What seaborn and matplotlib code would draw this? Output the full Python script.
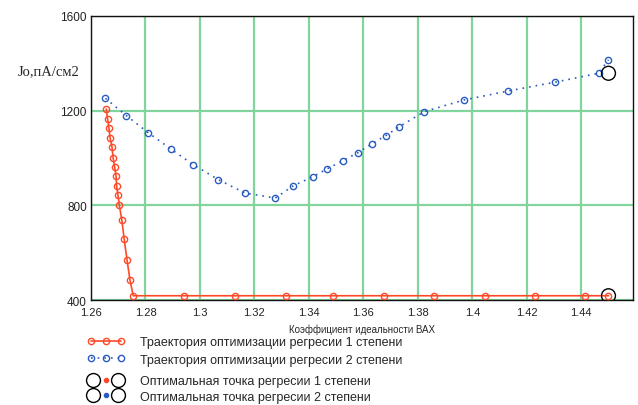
import matplotlib
matplotlib.use("Agg")
import matplotlib.pyplot as plt
import seaborn as sns
from matplotlib.lines import Line2D
from matplotlib.legend_handler import HandlerTuple

# trajectory of 1st-degree regression
red_x = [1.2656, 1.2661, 1.2666, 1.2670, 1.2677, 1.2681, 1.2687, 1.2692, 1.2694,
         1.2699, 1.2704, 1.2713, 1.2722, 1.2732, 1.2743, 1.2755, 1.2942, 1.3128,
         1.3316, 1.3489, 1.3675, 1.3859, 1.4045, 1.4229, 1.4415, 1.4500]
red_y = [1207, 1165, 1125, 1085, 1047, 1002, 961, 923, 882, 842, 800, 739, 656,
         571, 485, 418, 418, 418, 418, 418, 418, 418, 418, 418, 418, 418]

# trajectory of 2nd-degree regression
blue_x = [1.2653, 1.2730, 1.2810, 1.2892, 1.2975, 1.3067, 1.3165, 1.3277, 1.3343,
          1.3414, 1.3465, 1.3524, 1.3581, 1.3630, 1.3683, 1.3730, 1.3824, 1.3969,
          1.4131, 1.4302, 1.4464, 1.4500]
blue_y = [1252, 1179, 1107, 1039, 972, 909, 852, 831, 883, 920, 953, 988, 1023,
          1059, 1095, 1131, 1196, 1245, 1283, 1320, 1358, 1415]

# optimal points
opt_x = [1.45, 1.45]
opt_y = [418, 1358]

x_ticks = [1.26, 1.28, 1.30, 1.32, 1.34, 1.36, 1.38, 1.40, 1.42, 1.44]
x_tick_labels = ["1.26", "1.28", "1.3", "1.32", "1.34", "1.36", "1.38", "1.4", "1.42", "1.44"]
y_ticks = [400, 800, 1200, 1600]

traj_labels = [
    "Траектория оптимизации регресии 1 степени",
    "Траектория оптимизации регресии 2 степени",
]
opt_labels = [
    "Оптимальная точка регресии 1 степени",
    "Оптимальная точка регресии 2 степени",
]

RED = "#ff4a2a"
BLUE = "#2a5cc0"
GRID = "#80d49c"

sns.set_theme(style="white")
plt.rcParams["font.family"] = ["Liberation Sans", "DejaVu Sans"]

fig = plt.figure(figsize=(6.38, 4.06), dpi=100)
ax = fig.add_axes([91 / 638, 1 - 301 / 406, 542 / 638, 284 / 406])

sns.lineplot(x=red_x, y=red_y, sort=False, ax=ax, color=RED, lw=1.2,
             marker="o", markersize=4.5, markerfacecolor="none",
             markeredgecolor=RED, markeredgewidth=1.0, zorder=3)
sns.lineplot(x=blue_x, y=blue_y, sort=False, ax=ax, color=BLUE, lw=1.2,
             linestyle=(0, (1, 3)), marker="o", markersize=4.5,
             markerfacecolor="none", markeredgecolor=BLUE,
             markeredgewidth=1.0, zorder=3)
sns.scatterplot(x=opt_x, y=opt_y, ax=ax, s=100, facecolor="none",
                edgecolor="black", linewidth=1.0, zorder=4)

ax.set_xlim(1.26, 1.459)
ax.set_ylim(400, 1600)
ax.set_xticks(x_ticks)
ax.set_xticklabels(x_tick_labels)
ax.set_yticks(y_ticks)
ax.tick_params(axis="x", length=0, labelsize=8, colors="#222222", pad=5)
ax.tick_params(axis="y", length=0, labelsize=8.5, colors="#222222", pad=3)
ax.grid(True, color=GRID, lw=1.6)
ax.set_axisbelow(True)
for sp in ax.spines.values():
    sp.set_color("#111111")
    sp.set_linewidth(1.0)

ax.set_xlabel("Коэффициент идеальности ВАХ", fontsize=7, labelpad=5)
ax.set_ylabel("Jo,пА/см2", rotation=0, fontsize=10.5,
              family=["Liberation Serif", "DejaVu Serif"], ha="center", va="center")
ax.yaxis.set_label_coords(-0.079, 0.806)

h1 = Line2D([], [], color=RED, lw=1.2, marker="o", markersize=4.5,
            markerfacecolor="none", markeredgecolor=RED)
h2 = Line2D([], [], color=BLUE, lw=1.2, linestyle=(0, (1, 3)), marker="o",
            markersize=4.5, markerfacecolor="none", markeredgecolor=BLUE)
big = Line2D([], [], ls="none", marker="o", markersize=10,
             markerfacecolor="none", markeredgecolor="black")
d_red = Line2D([], [], ls="none", marker="o", markersize=3, color=RED)
d_blue = Line2D([], [], ls="none", marker="o", markersize=3, color=BLUE)

fig.legend(
    [h1, h2], traj_labels, numpoints=3,
    loc="upper left", bbox_to_anchor=(87 / 638, 1 - 337 / 406),
    frameon=False, fontsize=9, handlelength=3.0, handletextpad=1.2,
    labelspacing=0.45, borderaxespad=0, borderpad=0,
)
fig.legend(
    [(big, d_red, big), (big, d_blue, big)], opt_labels,
    handler_map={tuple: HandlerTuple(ndivide=None, pad=0.0)},
    loc="upper left", bbox_to_anchor=(87 / 638, 1 - 376 / 406),
    frameon=False, fontsize=9, handlelength=3.0, handletextpad=1.2,
    labelspacing=0.3, borderaxespad=0, borderpad=0,
)

fig.savefig("out.png", dpi=100)
